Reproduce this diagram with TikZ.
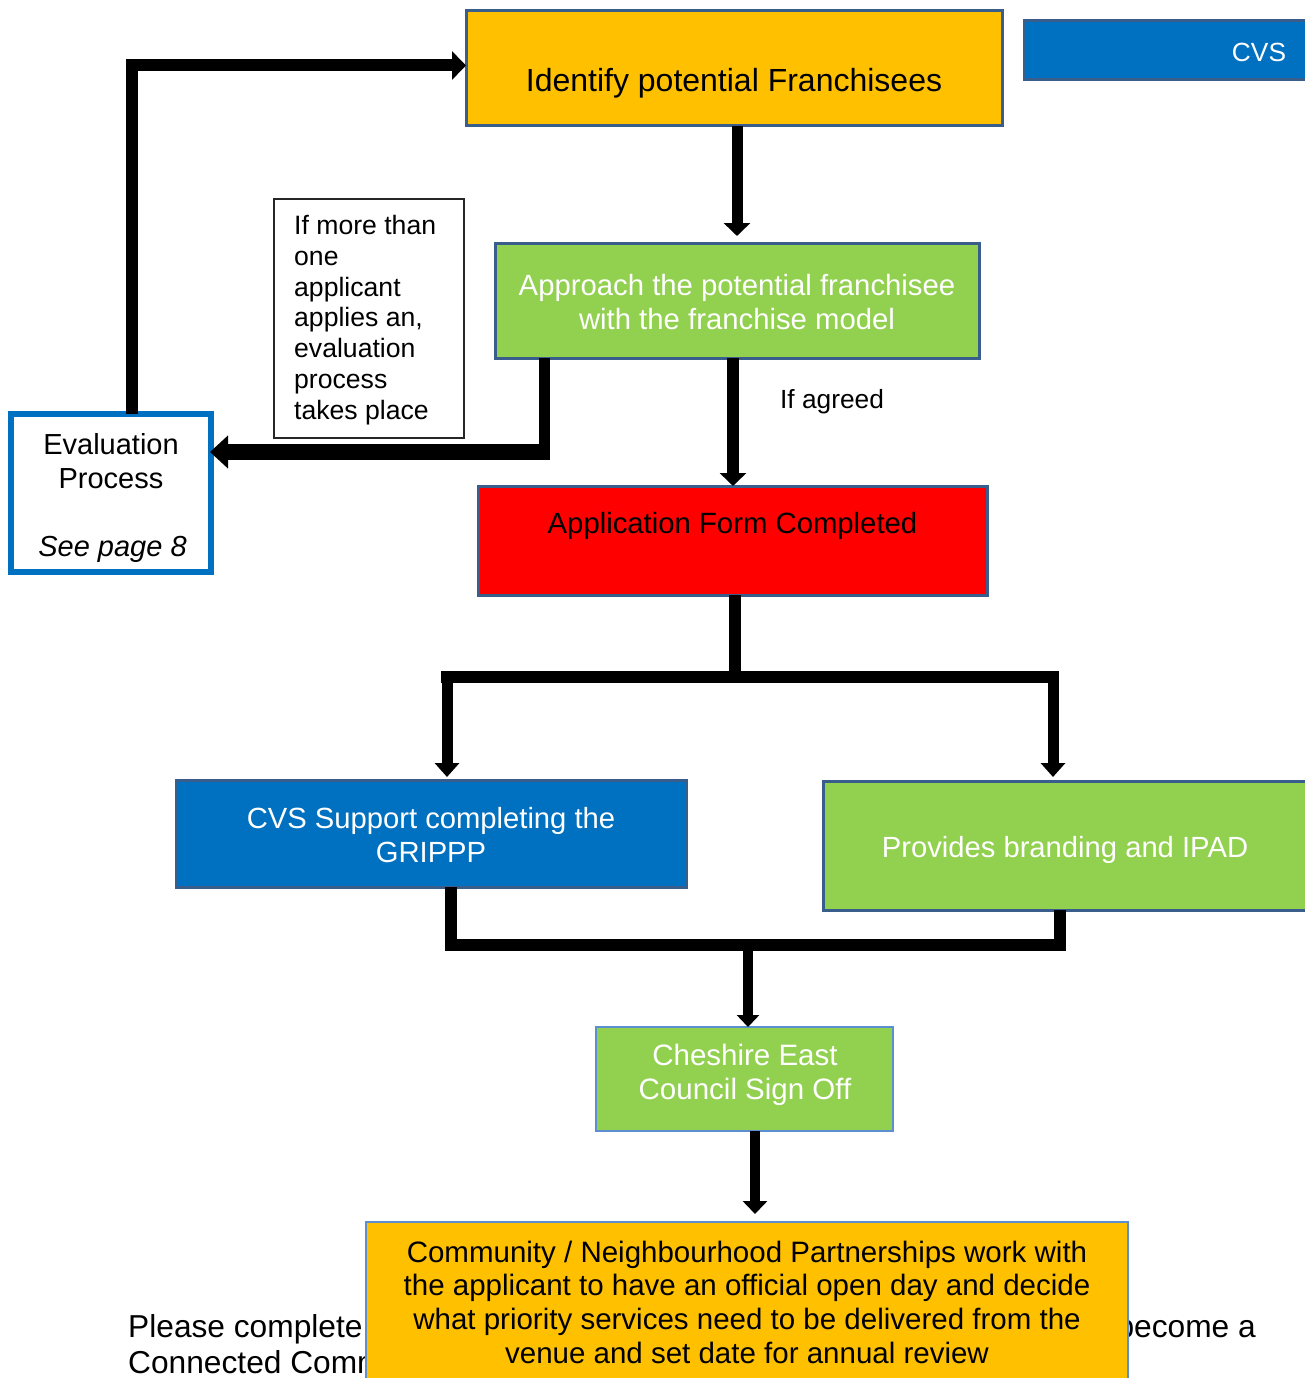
\documentclass[tikz,border=0pt]{standalone}
\usepackage{fontspec}
\setmainfont{Liberation Sans}
\usetikzlibrary{arrows.meta,calc}
\definecolor{cgold}{HTML}{FFC000}
\definecolor{cblue}{HTML}{0070C0}
\definecolor{cgreen}{HTML}{92D050}
\definecolor{cred}{HTML}{FF0000}
\definecolor{cedge}{HTML}{3A5E8C}
\definecolor{cthin}{HTML}{5B8FD0}
\newcommand\myfs[2]{\fontsize{#1}{#2}\selectfont}
\begin{document}
\begin{tikzpicture}[x=1pt,y=-1pt,
  box/.style={draw=cedge,line width=3pt,inner sep=0pt,outer sep=0pt},
  thinbox/.style={draw=cthin,line width=1.8pt,inner sep=0pt,outer sep=0pt},
  txt/.style={inner sep=0pt,align=center},
  wtxt/.style={txt,text=white},
  lk/.style={line width=#1,line join=miter},
  ]
\useasboundingbox (0,0) rectangle (1304,1378);
\fill[white] (0,0) rectangle (1304,1378);

% background page text (partly hidden)
\node[txt,anchor=west,font=\myfs{31.7}{36}] (bgA) at (128,1329) {Please complete};
\node[txt,anchor=west,font=\myfs{31.7}{36}] (bgB) at (128,1362) {Connected Comm};
\node[txt,anchor=east,font=\myfs{31.7}{36}] (bgC) at (1256,1326) {become a};

% boxes
\node[box,fill=cgold,minimum width=536pt,minimum height=115pt] (idf) at (734,68.5) {};
\node[box,fill=cblue,minimum width=300pt,minimum height=59pt] (cvs) at (1174,50.5) {};
\node[box,fill=cgreen,minimum width=484pt,minimum height=115pt] (appr) at (737,300.5) {};
\node[draw=black!85,line width=1.5pt,fill=white,minimum width=190pt,minimum height=239pt,inner sep=0pt] (note) at (369,318.5) {};
\node[draw=cblue,line width=6pt,fill=white,minimum width=200pt,minimum height=158pt,inner sep=0pt,outer sep=0pt] (eval) at (111,493) {};
\node[box,fill=cred,minimum width=509pt,minimum height=109pt] (red) at (732.5,540.5) {};
\node[box,fill=cblue,minimum width=510pt,minimum height=107pt] (gripp) at (431,833.5) {};
\node[box,fill=cgreen,minimum width=500pt,minimum height=129pt] (brand) at (1073,845.5) {};
\node[thinbox,fill=cgreen,minimum width=297pt,minimum height=104pt] (ces) at (744.5,1079) {};
\node[thinbox,fill=cgold,minimum width=762pt,minimum height=190pt] (comm) at (747,1317) {};

% texts
\node[txt,font=\myfs{32}{38}] (idft) at (734,83.3) {Identify potential Franchisees};
\node[wtxt,font=\myfs{26.3}{30}] (cvst) at (1259,52) {CVS};
\node[wtxt,font=\myfs{29.3}{34}] (apprt) at (737,302) {Approach the potential franchisee\\with the franchise model};
\node[txt,align=left,anchor=west,font=\myfs{26.6}{30.8}] (notet) at (294,320) {If more than\\one\\applicant\\applies an,\\evaluation\\process\\takes place};
\node[txt,font=\myfs{29}{34}] (evalt) at (111,461) {Evaluation\\Process};
\node[txt,font=\myfs{29}{34}\itshape] (evalp) at (112.5,549) {See page 8};
\node[txt,font=\myfs{26.3}{30}] (agr) at (832,402) {If agreed};
\node[txt,font=\myfs{29.3}{34}] (redt) at (732.5,526) {Application Form Completed};
\node[wtxt,font=\myfs{29.2}{34}] (grippt) at (431,835) {CVS Support completing the\\GRIPPP};
\node[wtxt,font=\myfs{29.2}{34}] (brandt) at (1065,850) {Provides branding and IPAD};
\node[wtxt,font=\myfs{29.5}{34}] (cest) at (745,1075) {Cheshire East\\Council Sign Off};
\node[txt,font=\myfs{29.5}{33.7}] (commt) at (747,1302) {Community / Neighbourhood Partnerships work with\\the applicant to have an official open day and decide\\what priority services need to be delivered from the\\venue and set date for annual review};

% connectors
\draw[lk=11pt,-{Triangle[width=26pt,length=13pt]},shorten >=7pt] (idf.south -| appr.north) -- (appr.north);
\draw[lk=12pt,-{Triangle[width=26pt,length=13pt]}] ($(appr.south)+(-4,0)$) -- ($(red.north)+(0.5,0)$);

\coordinate (evc) at ($(appr.south)+(-193,0)$);
\draw[lk=11pt] (evc) -- ($(evc)+(0,102)$);
\draw[lk=16pt,-{Triangle[width=32pt,length=18pt]}] ($(evc)+(5.5,94)$) -- ($(eval.north east)+(-1,38)$);

\draw[lk=12pt,-{Triangle[width=28pt,length=14pt]}] ($(eval.north)+(21,0)$) |- ($(idf.west)+(0,-3)$);

\draw[lk=12pt] ($(red.south)+(2.5,0)$) -- ($(red.south)+(2.5,82)$);
\coordinate (brL) at (447,677);
\coordinate (brR) at (1053,677);
\draw[lk=12pt,line cap=rect] (brL) -- (brR);
\draw[lk=11pt,-{Triangle[width=24pt,length=14pt]},shorten >=3pt] (brL) -- (brL |- gripp.north);
\draw[lk=11pt,-{Triangle[width=24pt,length=14pt]},shorten >=4pt] (brR) -- (brR |- brand.north);

\coordinate (mg) at (748,945);
\draw[lk=12pt] ($(gripp.south)+(20,0)$) |- (mg) -| ($(brand.south)+(-13,0)$);
\draw[lk=10pt,-{Triangle[width=22pt,length=12pt]}] (mg) -- (mg |- ces.north);

\coordinate (cesout) at ($(ces.south)+(10.5,0)$);
\draw[lk=10pt,-{Triangle[width=24pt,length=13pt]},shorten >=8pt] (cesout) -- (cesout |- comm.north);
\end{tikzpicture}
\end{document}
